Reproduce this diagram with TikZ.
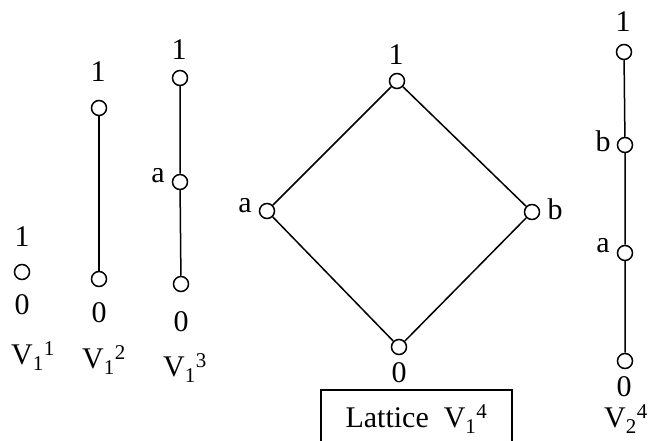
\documentclass[tikz,border=0pt]{standalone}
\usepackage{fontspec}
\setmainfont{Liberation Serif}
\begin{document}
\begin{tikzpicture}[x=1pt, y=-1pt, font=\fontsize{30}{34}\selectfont,
        vtx/.style={circle, draw, line width=1.5pt, fill=white, inner sep=0pt, minimum size=15pt},
        lbl/.style={inner sep=0pt},
        edge/.style={line width=1.5pt}]
        \useasboundingbox (0,0) rectangle (649,441);

        % V_1^1
        \node[vtx] (o1) at (22,272) {};
        \node[lbl] (o1t) at (22,237) {1};
        \node[lbl] (o1b) at (22,305) {0};
        \node[lbl] (o1n) at (33,356) {V\textsubscript{1}\textsuperscript{1}};

        % V_1^2
        \node[vtx] (t1) at (99,108) {};
        \node[vtx] (t0) at (99,279) {};
        \draw[edge] (t1) -- (t0);
        \node[lbl] (t1l) at (98,72) {1};
        \node[lbl] (t0l) at (99,313) {0};
        \node[lbl] (tn) at (104,360) {V\textsubscript{1}\textsuperscript{2}};

        % V_1^3
        \node[vtx] (h1) at (180,78) {};
        \node[vtx] (ha) at (180,182) {};
        \node[vtx] (h0) at (181,284) {};
        \draw[edge] (h1) -- (ha) -- (h0);
        \node[lbl] (h1l) at (179,50) {1};
        \node[lbl] (hal) at (158,176) {a};
        \node[lbl] (h0l) at (181,322) {0};
        \node[lbl] (hn) at (185,368) {V\textsubscript{1}\textsuperscript{3}};

        % Lattice V_1^4
        \node[vtx] (d1) at (397,81) {};
        \node[vtx] (da) at (267,211) {};
        \node[vtx] (db) at (532,212) {};
        \node[vtx] (d0) at (399,347) {};
        \draw[edge] (d1) -- (da) -- (d0) -- (db) -- (d1);
        \node[lbl] (d1l) at (396,55) {1};
        \node[lbl] (dal) at (245,206) {a};
        \node[lbl] (dbl) at (555,209) {b};
        \node[lbl] (d0l) at (399,373) {0};

        % caption box, open at the bottom edge
        \node[inner sep=0pt, minimum width=191pt, minimum height=58pt] (lat) at (416.5,419)
            {Lattice\ \ V\textsubscript{1}\textsuperscript{4}};
        \draw[edge] (lat.south west) -- (lat.north west) -- (lat.north east) -- (lat.south east);

        % V_2^4
        \node[vtx] (c1) at (624,52) {};
        \node[vtx] (cb) at (625,145) {};
        \node[vtx] (ca) at (625,253) {};
        \node[vtx] (c0) at (625,361) {};
        \draw[edge] (c1) -- (cb) -- (ca) -- (c0);
        \node[lbl] (c1l) at (623,22) {1};
        \node[lbl] (cbl) at (603,141) {b};
        \node[lbl] (cal) at (603,246) {a};
        \node[lbl] (c0l) at (624,387) {0};
        \node[lbl] (cn) at (626,419) {V\textsubscript{2}\textsuperscript{4}};
\end{tikzpicture}
\end{document}
